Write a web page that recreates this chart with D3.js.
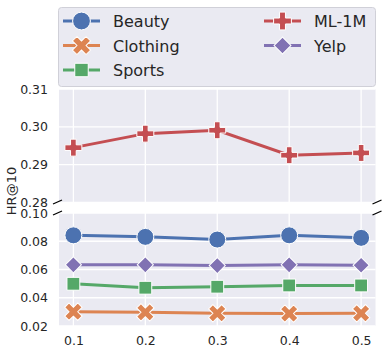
<!DOCTYPE html>
<meta charset="utf-8">
<style>
body { margin: 0; background: #fff; }
svg text { font-family: "DejaVu Sans", sans-serif; fill: #262626; }
.tick text { font-size: 12.5px; }
.grid line { stroke: #fff; stroke-width: 1.3; }
.line { fill: none; stroke-width: 3; }
.mark { stroke: #fff; stroke-width: 1; }
</style>
<body>
<script src="https://cdn.jsdelivr.net/npm/d3@7"></script>
<script>
// data
var xValues = [0.1, 0.2, 0.3, 0.4, 0.5];
var xTicks = [0.1, 0.2, 0.3, 0.4, 0.5];
var seriesNames = ["Beauty", "Clothing", "Sports", "ML-1M", "Yelp"];
var beauty = [0.0842, 0.0831, 0.0812, 0.0842, 0.0824];
var clothing = [0.0301, 0.0297, 0.0290, 0.0288, 0.0290];
var sports = [0.0499, 0.0471, 0.0478, 0.0487, 0.0487];
var ml1m = [0.2945, 0.2982, 0.2991, 0.2925, 0.2931];
var yelp = [0.0633, 0.0633, 0.0628, 0.0633, 0.0630];
var topTicks = [0.28, 0.29, 0.30, 0.31];
var bottomTicks = [0.02, 0.04, 0.06, 0.08, 0.10];

var colors = {"Beauty": "#4C72B0", "Clothing": "#DD8452", "Sports": "#55A868", "ML-1M": "#C44E52", "Yelp": "#8172B3"};
var values = {"Beauty": beauty, "Clothing": clothing, "Sports": sports, "ML-1M": ml1m, "Yelp": yelp};

// marker shapes (matplotlib o, X, s, P, D)
var markers = {
  "Beauty":   {type: d3.symbolCircle, size: 227, rot: 0},
  "Clothing": {type: d3.symbolCross, size: 190, rot: 45},
  "Sports":   {type: d3.symbolSquare, size: 165, rot: 0},
  "ML-1M":    {type: d3.symbolCross, size: 160, rot: 0},
  "Yelp":     {type: d3.symbolSquare, size: 130, rot: 45}
};

var W = 386, H = 354;
var left = 59, right = 375.5;
var topPanel = {y0: 89, y1: 202.5};
var botPanel = {y0: 213, y1: 326};

var svg = d3.select("body").append("svg").attr("width", W).attr("height", H);

var x = d3.scaleLinear().domain([0.08, 0.52]).range([left, right]);
var yTop = d3.scaleLinear().domain([0.28, 0.31]).range([topPanel.y1, topPanel.y0]);
var yBot = d3.scaleLinear().domain([0.02, 0.10]).range([botPanel.y1, botPanel.y0]);

function panel(y, p, ticks, names) {
  var g = svg.append("g");
  g.append("rect").attr("x", left).attr("y", p.y0)
    .attr("width", right - left).attr("height", p.y1 - p.y0).attr("fill", "#EAEAF2");
  var grid = g.append("g").attr("class", "grid");
  grid.selectAll(".v").data(xTicks).enter().append("line")
    .attr("x1", d => x(d)).attr("x2", d => x(d)).attr("y1", p.y0).attr("y2", p.y1);
  grid.selectAll(".h").data(ticks).enter().append("line")
    .attr("x1", left).attr("x2", right).attr("y1", d => y(d)).attr("y2", d => y(d));

  var ax = g.append("g").attr("transform", "translate(" + (left - 4) + ",0)")
    .call(d3.axisLeft(y).tickValues(ticks).tickFormat(d3.format(".2f")).tickSize(0).tickPadding(7));
  ax.select(".domain").remove();

  var line = d3.line().x((d, i) => x(xValues[i])).y(d => y(d));
  names.forEach(function(n) {
    g.append("path").attr("class", "line").attr("stroke", colors[n]).attr("d", line(values[n]));
  });
  names.forEach(function(n) {
    var m = markers[n];
    g.selectAll(null).data(values[n]).enter().append("path")
      .attr("class", "mark").attr("fill", colors[n])
      .attr("d", d3.symbol().type(m.type).size(m.size))
      .attr("transform", (d, i) => "translate(" + x(xValues[i]) + "," + y(d) + ") rotate(" + m.rot + ")");
  });
}

panel(yTop, topPanel, topTicks, ["ML-1M"]);
panel(yBot, botPanel, bottomTicks, ["Clothing", "Sports", "Yelp", "Beauty"]);

// x axis labels
var xa = svg.append("g").attr("transform", "translate(0," + botPanel.y1 + ")")
  .call(d3.axisBottom(x).tickValues(xTicks).tickFormat(d3.format(".1f")).tickSize(0).tickPadding(10));
xa.select(".domain").remove();

// axis break marks
[[left - 1.5, topPanel.y1 - 0.5], [left - 1.5, botPanel.y0], [right + 1.5, topPanel.y1 - 0.5], [right + 1.5, botPanel.y0]].forEach(function(p) {
  svg.append("line").attr("x1", p[0] - 4.5).attr("y1", p[1] + 2).attr("x2", p[0] + 4.5).attr("y2", p[1] - 2)
    .attr("stroke", "#000").attr("stroke-width", 1.2);
});

// y label
svg.append("text").attr("transform", "translate(16,191) rotate(-90)")
  .attr("text-anchor", "middle").style("font-size", "13px").text("HR@10");

// legend
var lg = svg.append("g");
lg.append("rect").attr("x", 58.5).attr("y", 7.5).attr("width", 317).attr("height", 79).attr("rx", 3)
  .attr("fill", "#EAEAF2").attr("stroke", "#d0d0d8").attr("stroke-width", 1);
var legendPos = {
  "Beauty": [63, 21], "Clothing": [63, 45.5], "Sports": [63, 70],
  "ML-1M": [264, 21], "Yelp": [264, 45.5]
};
seriesNames.forEach(function(n) {
  var p = legendPos[n], m = markers[n];
  lg.append("line").attr("x1", p[0]).attr("x2", p[0] + 37).attr("y1", p[1]).attr("y2", p[1])
    .attr("stroke", colors[n]).attr("stroke-width", 3);
  lg.append("path").attr("class", "mark").attr("fill", colors[n])
    .attr("d", d3.symbol().type(m.type).size(m.size * 1.1))
    .attr("transform", "translate(" + (p[0] + 18.5) + "," + p[1] + ") rotate(" + m.rot + ")");
  lg.append("text").attr("x", p[0] + 50).attr("y", p[1] + 6).style("font-size", "16px").text(n);
});
</script>
</body>
